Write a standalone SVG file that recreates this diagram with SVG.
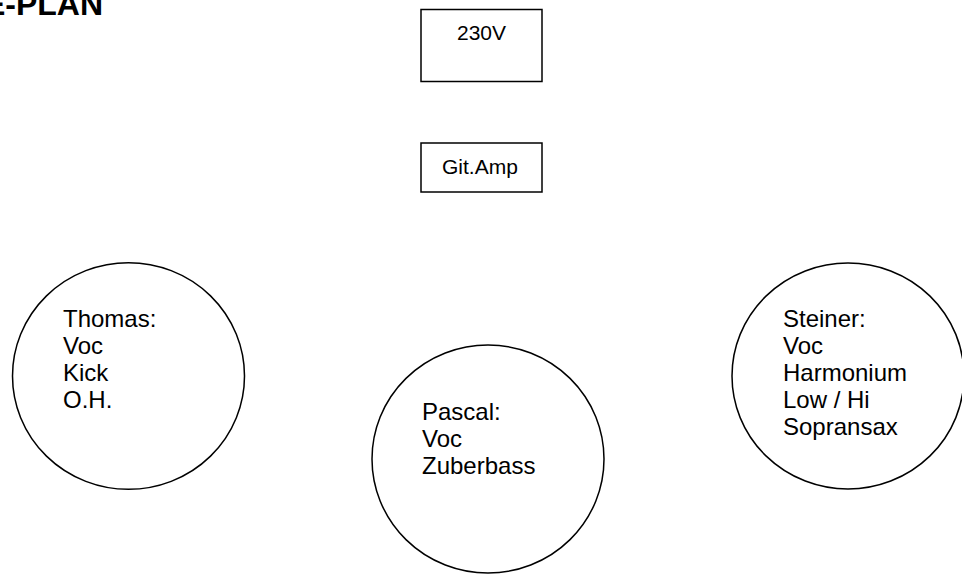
<svg xmlns="http://www.w3.org/2000/svg" width="962" height="574" viewBox="0 0 962 574">
<style>
.shape{fill:none;stroke:#000;stroke-width:1.5}
.t{font-family:"Liberation Sans",Arial,sans-serif;fill:#000}
.box{font-size:21px}
.circ{font-size:24px}
.title{font-size:32px;font-weight:bold}
</style>
<rect width="962" height="574" fill="#fff"/>
<text class="t title" x="103" y="15" text-anchor="end">E-PLAN</text>
<g id="power">
<rect class="shape" x="421" y="9.5" width="121" height="72"/>
<text class="t box" x="457" y="40">230V</text>
</g>
<g id="gitamp">
<rect class="shape" x="421" y="143" width="121" height="49"/>
<text class="t box" x="442" y="174">Git.Amp</text>
</g>
<g id="thomas">
<ellipse class="shape" cx="128.5" cy="376" rx="116" ry="113.3"/>
<text class="t circ" x="63" y="327">Thomas:</text>
<text class="t circ" x="63" y="354">Voc</text>
<text class="t circ" x="63" y="381">Kick</text>
<text class="t circ" x="63" y="408">O.H.</text>
</g>
<g id="pascal">
<ellipse class="shape" cx="488" cy="459" rx="116" ry="114"/>
<text class="t circ" x="422" y="420">Pascal:</text>
<text class="t circ" x="422" y="447">Voc</text>
<text class="t circ" x="422" y="474">Zuberbass</text>
</g>
<g id="steiner">
<ellipse class="shape" cx="848" cy="376" rx="116" ry="113"/>
<text class="t circ" x="783" y="327">Steiner:</text>
<text class="t circ" x="783" y="354">Voc</text>
<text class="t circ" x="783" y="381">Harmonium</text>
<text class="t circ" x="783" y="408">Low / Hi</text>
<text class="t circ" x="783" y="435">Sopransax</text>
</g>
<g id="connectors"></g>
</svg>
